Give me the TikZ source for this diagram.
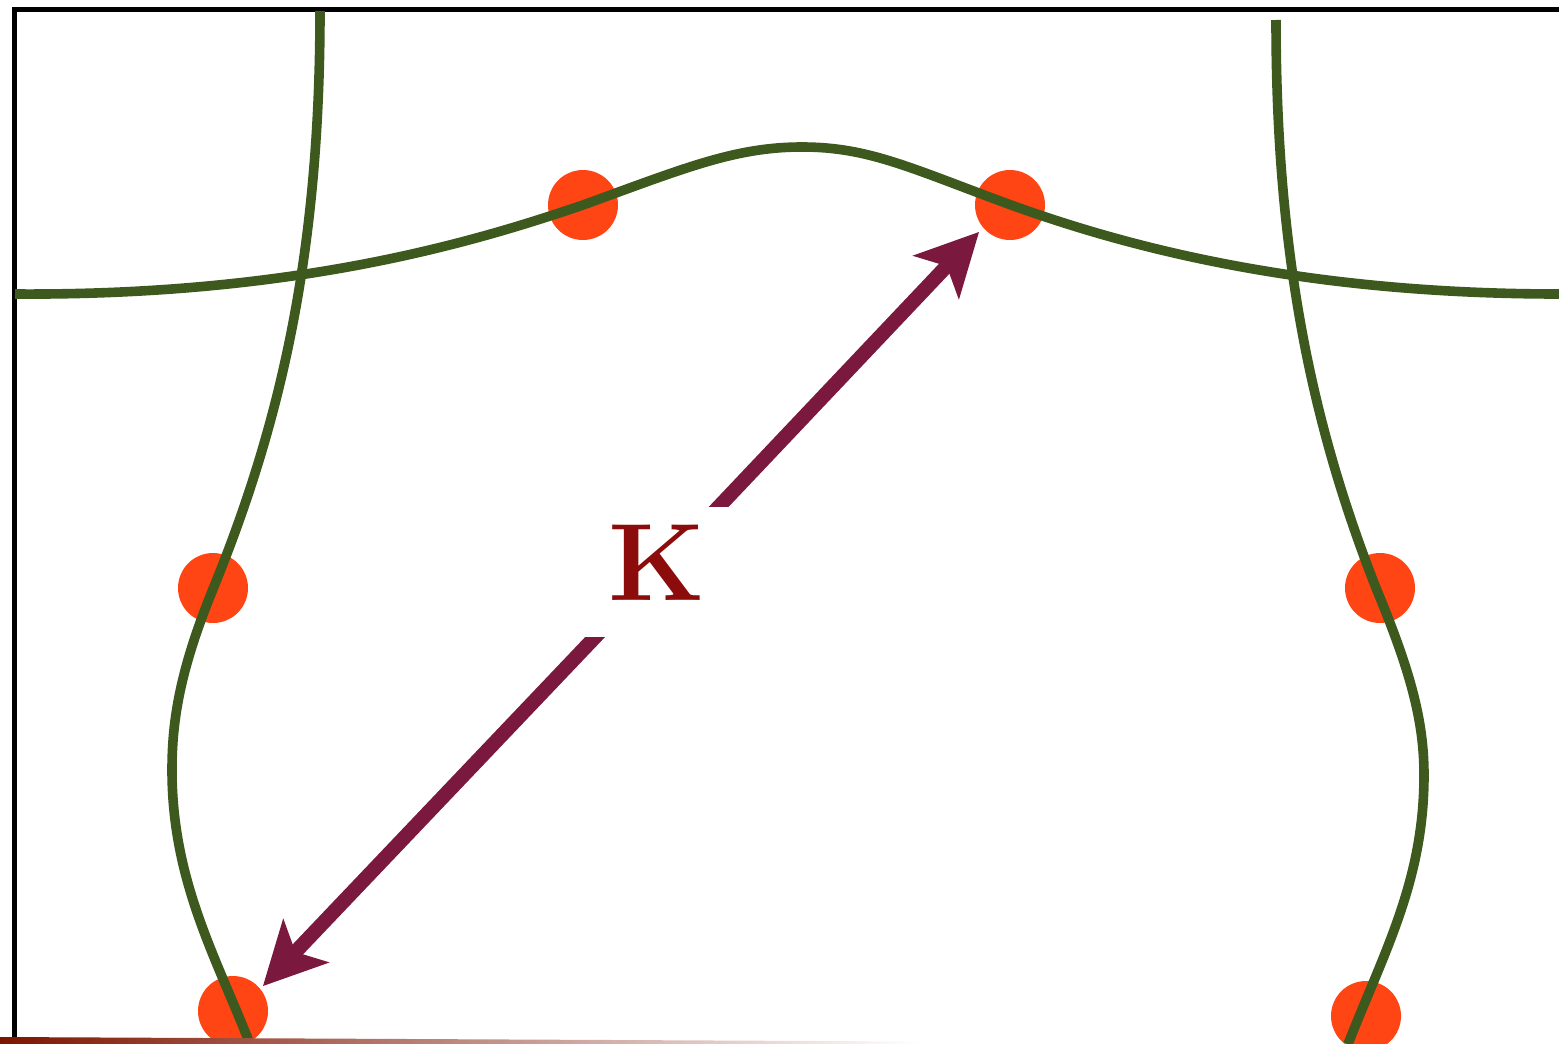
\documentclass[tikz,border=0pt]{standalone}
\usetikzlibrary{arrows.meta}
\definecolor{curvegreen}{RGB}{61,89,29}
\definecolor{dotred}{RGB}{255,69,20}
\definecolor{arrowplum}{RGB}{122,24,62}
\definecolor{labelred}{RGB}{140,12,12}
\definecolor{bandred}{RGB}{125,20,0}
\begin{document}
\begin{tikzpicture}[x=0.5pt,y=-0.5pt,
  dot/.style={circle,fill=dotred,draw=none,inner sep=0pt,minimum size=35pt},
  curve/.style={draw=curvegreen,line width=4.8pt},
  frameline/.style={draw=black,line width=2.4pt},
  karrow/.style={draw=arrowplum,line width=7.2pt,-{Stealth[length=31.5pt,width=32pt,inset=8pt,line width=0pt]}},
  klabel/.style={fill=white,text=labelred,font=\fontsize{55}{60}\selectfont\bfseries,inner sep=0pt,minimum width=76pt,text height=46.5pt,text depth=18.5pt}
]
\useasboundingbox (0,0) rectangle (1559,1044);
% dots
\node[dot] (d1) at (583,205) {};
\node[dot] (d2) at (1010,205) {};
\node[dot] (d3) at (213,588) {};
\node[dot] (d4) at (1380,588) {};
\node[dot] (d5) at (233,1011) {};
\node[dot] (d6) at (1366,1016) {};
% frame
\draw[frameline] (14.5,1044) -- (14.5,9.5) -- (1559,9.5);
% horizontal wave
\draw[curve] (15,294) .. controls (300,296) and (480,240) .. (583,205)
  .. controls (685,168) and (735,147) .. (802,147)
  .. controls (869,147) and (910,168) .. (1011,205)
  .. controls (1114,242) and (1290,294) .. (1559,294);
% left vertical curve
\draw[curve] (320,11) .. controls (320,250) and (282,420) .. (213,589)
  .. controls (180,670) and (172,720) .. (172,770)
  .. controls (172,880) and (215,955) .. (250,1044);
% right vertical curve
\draw[curve] (1276,20) .. controls (1276,250) and (1310,420) .. (1376,588)
  .. controls (1410,670) and (1424,720) .. (1424,775)
  .. controls (1424,880) and (1385,950) .. (1348,1044);
% arrows and label
\coordinate (kc) at (657,572);
\coordinate (tipA) at (979,232);
\coordinate (tipB) at (263,986);
\draw[karrow] (kc) -- (tipA);
\draw[karrow] (kc) -- (tipB);
\node[klabel] (K) at (kc) {K};
% bottom band
\shade[left color=bandred,right color=white] (0,1037) -- (920,1041.5) -- (920,1044) -- (0,1044) -- cycle;
\end{tikzpicture}
\end{document}
